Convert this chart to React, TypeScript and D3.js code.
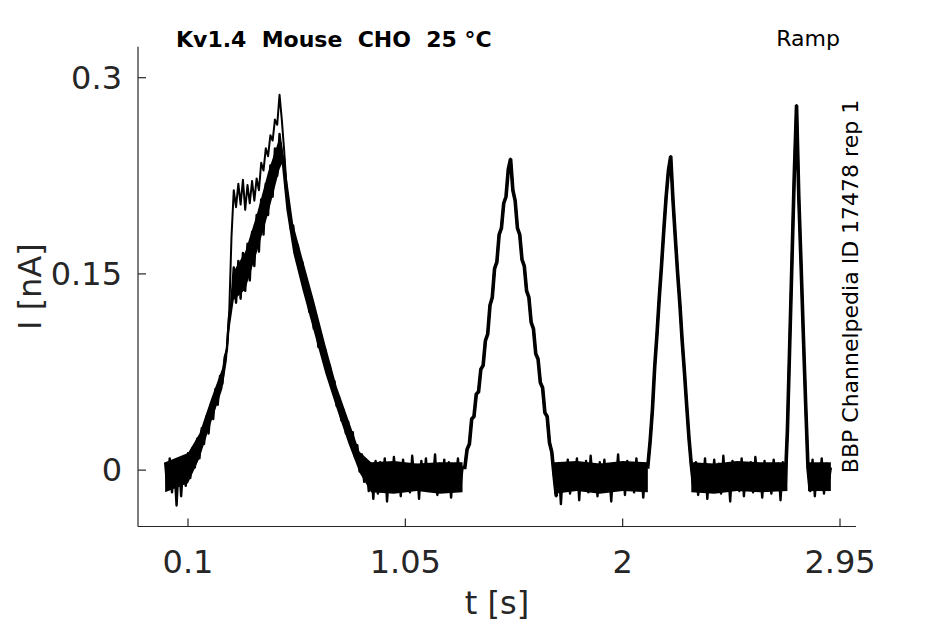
import * as d3 from 'd3'

// sampled current, one value every 10 ms (nA)
const SAMPLE_DT = 0.01

const rampOneStart = 0
const rampOneCurrent = [
  0.006, -0.014, 0.009, -0.017, 0.004, -0.027, 0.008, -0.02, 0.007, -0.012,
  0.013, -0.006, 0.017, 0.002, 0.024, 0.009, 0.032, 0.02, 0.041, 0.028,
  0.05, 0.039, 0.062, 0.05, 0.072, 0.066, 0.086, 0.092, 0.118, 0.128,
  0.155, 0.128, 0.16, 0.131, 0.166, 0.137, 0.173, 0.145, 0.182, 0.156,
  0.195, 0.167, 0.207, 0.18, 0.219, 0.195, 0.233, 0.209, 0.246, 0.225,
  0.257, 0.241, 0.238, 0.212, 0.203, 0.184, 0.187, 0.165, 0.172, 0.153,
  0.159, 0.138, 0.143, 0.121, 0.126, 0.108, 0.113, 0.094, 0.103, 0.086,
  0.092, 0.073, 0.08, 0.062, 0.068, 0.049, 0.056, 0.038, 0.046, 0.028,
  0.037, 0.02, 0.029, 0.01, 0.019, -0.001, 0.012, -0.009, 0.006, -0.016,
  0.004, -0.022, 0.007,
]

const restOneStart = 0.93
const restOneCurrent = [
  -0.018, 0.006, -0.011, 0.009, -0.024, 0.003, -0.015, 0.01, -0.009, 0.005,
  -0.02, 0.008, -0.013, 0.002, -0.017, 0.011, -0.01, 0.004, -0.022, 0.007,
  -0.012, 0.009, -0.016, 0.003, -0.008, 0.012, -0.019, 0.005, -0.011, 0.008,
  -0.014, 0.006, -0.021, 0.004, -0.01, 0.009, -0.015, 0.002,
]

const rampTwoStart = 1.31
const rampTwoCurrent = [
  0.002, 0.016, 0.02, 0.039, 0.041, 0.058, 0.06, 0.077, 0.08, 0.099,
  0.104, 0.126, 0.132, 0.154, 0.159, 0.18, 0.185, 0.204, 0.209, 0.23,
  0.238, 0.214, 0.206, 0.185, 0.18, 0.161, 0.156, 0.137, 0.132, 0.113,
  0.108, 0.089, 0.085, 0.067, 0.063, 0.044, 0.041, 0.021, 0.014, -0.004,
]

const restTwoStart = 1.71
const restTwoCurrent = [
  -0.02, 0.005, -0.026, 0.003, -0.014, 0.008, -0.018, 0.002, -0.011, 0.009,
  -0.023, 0.004, -0.013, 0.007, -0.017, 0.011, -0.009, 0.003, -0.02, 0.006,
  -0.012, 0.008, -0.016, 0.002, -0.024, 0.005, -0.01, 0.012, -0.015, 0.004,
  -0.019, 0.007, -0.011, 0.003, -0.017, 0.009, -0.013, 0.005, -0.021, 0.004,
]

const rampThreeStart = 2.11
const rampThreeCurrent = [
  0.003, 0.022, 0.046, 0.079, 0.104, 0.132, 0.157, 0.184, 0.209, 0.229,
  0.24, 0.206, 0.178, 0.151, 0.127, 0.099, 0.075, 0.049, 0.024, 0.004,
  -0.012,
]

const restThreeStart = 2.32
const restThreeCurrent = [
  0.006, -0.019, 0.004, -0.012, 0.009, -0.022, 0.003, -0.015, 0.008, -0.01,
  0.005, -0.018, 0.011, -0.013, 0.002, -0.024, 0.007, -0.011, 0.004, -0.016,
  0.009, -0.02, 0.003, -0.012, 0.006, -0.017, 0.01, -0.009, 0.004, -0.021,
  0.007, -0.014, 0.002, -0.018, 0.008, -0.011, 0.005, -0.023, 0.006, -0.013,
]

const rampFourStart = 2.72
const rampFourCurrent = [0.03, 0.095, 0.16, 0.225, 0.279, 0.208, 0.156, 0.102, 0.05, 0.002]

const restFourStart = 2.82
const restFourCurrent = [-0.016, 0.008, -0.02, 0.004, -0.012, 0.009, -0.018, 0.005, -0.01, 0.002]

// one sweep that jumps early on the first ramp
const earlySweepStart = 0.27
const earlySweepCurrent = [
  0.094, 0.12, 0.178, 0.214, 0.201, 0.219, 0.203, 0.222, 0.199, 0.218,
  0.204, 0.221, 0.206, 0.223, 0.214, 0.235, 0.229, 0.246, 0.24, 0.256,
  0.252, 0.268, 0.264, 0.287, 0.268, 0.245, 0.218, 0.201,
]

// solid core where the repeated sweeps overlap (lower / upper edge, nA)
const coreOneT = [0, 0.1, 0.15, 0.2, 0.25, 0.27, 0.28, 0.3, 0.35, 0.4, 0.45, 0.5, 0.51, 0.53, 0.56, 0.6, 0.65, 0.7, 0.75, 0.8, 0.85, 0.9, 1.0, 1.1, 1.2, 1.3]
const coreOneLo = [-0.017, -0.01, 0.009, 0.036, 0.062, 0.084, 0.106, 0.13, 0.138, 0.166, 0.196, 0.23, 0.234, 0.199, 0.166, 0.138, 0.106, 0.074, 0.047, 0.021, -0.002, -0.017, -0.018, -0.016, -0.018, -0.017]
const coreOneHi = [0.006, 0.013, 0.028, 0.054, 0.078, 0.098, 0.12, 0.152, 0.167, 0.195, 0.228, 0.254, 0.25, 0.226, 0.188, 0.162, 0.13, 0.096, 0.064, 0.039, 0.014, 0.006, 0.007, 0.005, 0.006, 0.006]
const coreTwoT = [1.7, 1.8, 1.9, 2.0, 2.11]
const coreTwoLo = [-0.018, -0.016, -0.018, -0.016, -0.017]
const coreTwoHi = [0.006, 0.007, 0.005, 0.007, 0.006]
const coreThreeT = [2.3, 2.4, 2.5, 2.6, 2.72]
const coreThreeLo = [-0.017, -0.018, -0.016, -0.017, -0.016]
const coreThreeHi = [0.006, 0.005, 0.007, 0.006, 0.006]
const coreFourT = [2.81, 2.91]
const coreFourLo = [-0.016, -0.016]
const coreFourHi = [0.006, 0.006]

const xTicks = [0.1, 1.05, 2, 2.95]
const xTickLabels = ['0.1', '1.05', '2', '2.95']
const yTicks = [0, 0.15, 0.3]
const yTickLabels = ['0', '0.15', '0.3']

const titleText = 'Kv1.4  Mouse  CHO  25 °C'
const protocolText = 'Ramp'
const sourceText = 'BBP Channelpedia ID 17478 rep 1'

type Sample = { t: number; i: number }
type Core = { t: number; lo: number; hi: number }

function toSamples(start: number, values: number[]): Sample[] {
  return values.map((i, k) => ({ t: start + k * SAMPLE_DT, i }))
}

function toCore(t: number[], lo: number[], hi: number[]): Core[] {
  return t.map((tt, k) => ({ t: tt, lo: lo[k], hi: hi[k] }))
}

const mainSweep: Sample[] = [
  ...toSamples(rampOneStart, rampOneCurrent),
  ...toSamples(restOneStart, restOneCurrent),
  ...toSamples(rampTwoStart, rampTwoCurrent),
  ...toSamples(restTwoStart, restTwoCurrent),
  ...toSamples(rampThreeStart, rampThreeCurrent),
  ...toSamples(restThreeStart, restThreeCurrent),
  ...toSamples(rampFourStart, rampFourCurrent),
  ...toSamples(restFourStart, restFourCurrent),
]

// the later, faster ramps are drawn a little heavier (overlapping sweeps),
// taken from the main sweep with one sample of rest on each side
function sweepBetween(from: number, to: number): Sample[] {
  return mainSweep.filter((d) => d.t >= from - SAMPLE_DT * 1.01 && d.t <= to + SAMPLE_DT * 1.01)
}
const laterRamps: Sample[][] = [
  sweepBetween(rampTwoStart, restTwoStart - SAMPLE_DT),
  sweepBetween(rampThreeStart, restThreeStart - SAMPLE_DT),
  sweepBetween(rampFourStart, restFourStart - SAMPLE_DT),
]
const earlySweep = toSamples(earlySweepStart, earlySweepCurrent)
const cores = [
  toCore(coreOneT, coreOneLo, coreOneHi),
  toCore(coreTwoT, coreTwoLo, coreTwoHi),
  toCore(coreThreeT, coreThreeLo, coreThreeHi),
  toCore(coreFourT, coreFourLo, coreFourHi),
]

const width = 945
const height = 624
const plot = { left: 138, right: 856, top: 46.7, bottom: 526.5 }
const axisColor = '#262626'
const font = '"DejaVu Sans", sans-serif'

export default function App() {
  const x = d3.scaleLinear().domain([-0.1186, 3.0199]).range([plot.left, plot.right])
  const y = d3.scaleLinear().domain([-0.0431, 0.3237]).range([plot.bottom, plot.top])
  const line = d3
    .line<Sample>()
    .x((d) => x(d.t))
    .y((d) => y(d.i))
  const area = d3
    .area<Core>()
    .x((d) => x(d.t))
    .y0((d) => y(d.lo))
    .y1((d) => y(d.hi))
  const tickLen = 8

  return (
    <svg
      width={width}
      height={height}
      viewBox={`0 0 ${width} ${height}`}
      style={{ position: 'absolute', left: 0, top: 0, background: '#fff' }}
      fontFamily={font}
    >
      <rect width={width} height={height} fill="#fff" />

      {cores.map((core, k) => (
        <path key={k} d={area(core) ?? ''} fill="#000" />
      ))}
      <path d={line(mainSweep) ?? ''} fill="none" stroke="#000" strokeWidth={2.4} strokeLinejoin="round" />
      {laterRamps.map((ramp, k) => (
        <path key={k} d={line(ramp) ?? ''} fill="none" stroke="#000" strokeWidth={3.6} strokeLinejoin="miter" strokeMiterlimit={6} />
      ))}
      <path d={line(earlySweep) ?? ''} fill="none" stroke="#000" strokeWidth={2} strokeLinejoin="round" />

      {/* axes */}
      <line x1={plot.left} x2={plot.left} y1={plot.top} y2={plot.bottom} stroke={axisColor} strokeWidth={1.2} />
      <line x1={plot.left} x2={plot.right} y1={plot.bottom} y2={plot.bottom} stroke={axisColor} strokeWidth={1.2} />

      {yTicks.map((tick, k) => (
        <g key={tick} transform={`translate(0,${y(tick)})`}>
          <line x1={plot.left} x2={plot.left + tickLen} stroke={axisColor} strokeWidth={1.2} />
          <text x={plot.left - 16} y={11} textAnchor="end" fontSize={32} fill={axisColor}>
            {yTickLabels[k]}
          </text>
        </g>
      ))}

      {xTicks.map((tick, k) => (
        <g key={tick} transform={`translate(${x(tick)},0)`}>
          <line y1={plot.bottom} y2={plot.bottom - tickLen} stroke={axisColor} strokeWidth={1.2} />
          <text y={573} textAnchor="middle" fontSize={32} fill={axisColor}>
            {xTickLabels[k]}
          </text>
        </g>
      ))}

      <text x={(plot.left + plot.right) / 2} y={614} textAnchor="middle" fontSize={32} fill={axisColor}>
        t [s]
      </text>
      <text
        transform={`translate(41,${(plot.top + plot.bottom) / 2}) rotate(-90)`}
        textAnchor="middle"
        fontSize={32}
        fill={axisColor}
      >
        I [nA]
      </text>

      <text x={176} y={47} fontSize={22} fontWeight="bold" fill="#000" style={{ whiteSpace: 'pre' }}>
        {titleText}
      </text>
      <text x={840} y={46} textAnchor="end" fontSize={22} fill="#000">
        {protocolText}
      </text>
      <text
        transform={`translate(858,${(98 + 475) / 2}) rotate(-90)`}
        textAnchor="middle"
        fontSize={22}
        fill="#000"
      >
        {sourceText}
      </text>
    </svg>
  )
}
